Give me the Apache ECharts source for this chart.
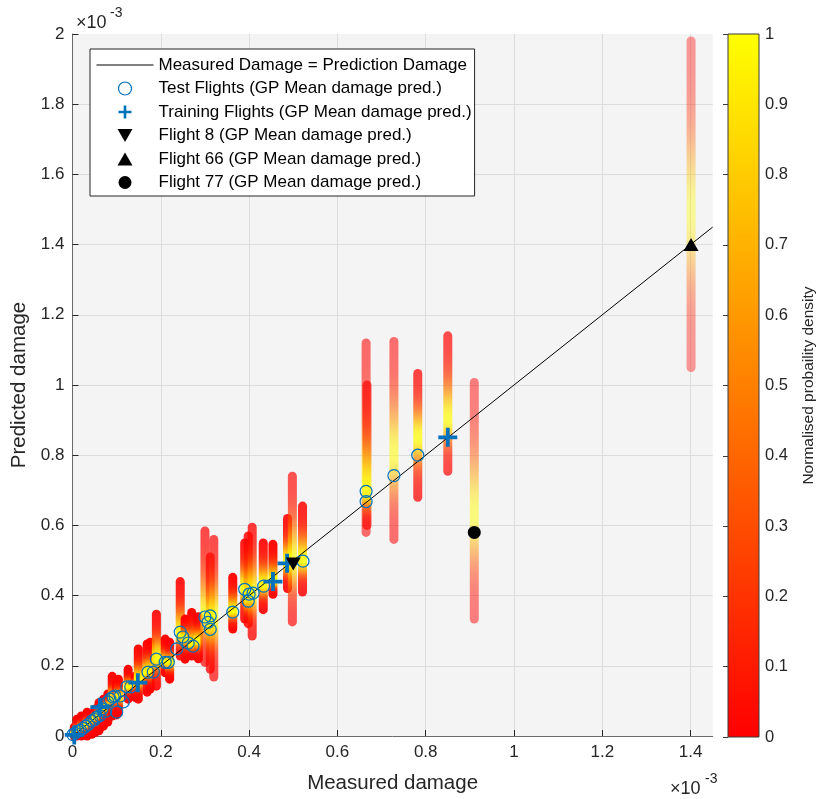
<!DOCTYPE html>
<html><head><meta charset="utf-8">
<script src="https://cdn.jsdelivr.net/npm/echarts@6/dist/echarts.min.js"></script>
<style>html,body{margin:0;padding:0;background:#fff}#c{width:818px;height:799px}</style>
</head><body><div id="c"></div>
<script>
// All damage values in units of 1e-3
// density strips: [measured, lowest predicted, highest predicted, density peak]
const strips = [
  [0.004,0.000,0.025,0.008],[0.010,0.000,0.048,0.014],[0.020,0.000,0.057,0.020],
  [0.033,0.000,0.068,0.030],[0.044,0.005,0.062,0.040],[0.051,0.010,0.077,0.050],
  [0.060,0.015,0.095,0.060],[0.070,0.028,0.105,0.078],[0.080,0.040,0.120,0.085],
  [0.090,0.057,0.170,0.105],[0.100,0.060,0.150,0.100],[0.104,0.068,0.162,0.110],
  [0.126,0.105,0.190,0.140],[0.142,0.110,0.170,0.150],[0.149,0.105,0.248,0.160],
  [0.169,0.125,0.262,0.180],[0.176,0.134,0.267,0.185],[0.190,0.142,0.347,0.220],
  [0.210,0.180,0.276,0.210],[0.220,0.162,0.267,0.210],[0.244,0.228,0.440,0.290],
  [0.255,0.219,0.333,0.280],[0.270,0.228,0.352,0.260],[0.285,0.220,0.340,0.270],
  [0.300,0.210,0.584,0.340],[0.312,0.190,0.510,0.320],[0.320,0.168,0.560,0.335],
  [0.363,0.305,0.452,0.355],[0.390,0.333,0.550,0.420],[0.398,0.320,0.570,0.390],
  [0.407,0.285,0.595,0.405],[0.432,0.360,0.550,0.430],[0.454,0.404,0.546,0.440],
  [0.487,0.420,0.620,0.495],[0.498,0.325,0.740,0.500],[0.521,0.410,0.655,0.500],
  [0.665,0.580,1.120,0.720],[0.667,0.600,1.000,0.690],[0.728,0.560,1.124,0.800],
  [0.782,0.680,1.033,0.850],[0.850,0.754,1.140,0.900],[0.910,0.333,1.007,0.630],
  [1.401,1.050,1.980,1.490]
];
const testFlights = [
  [0.001,0.004],[0.006,0.008],[0.012,0.013],[0.018,0.016],[0.024,0.022],[0.030,0.028],
  [0.036,0.033],[0.044,0.043],[0.050,0.047],[0.055,0.054],[0.062,0.058],[0.067,0.077],
  [0.075,0.070],[0.080,0.097],[0.085,0.105],[0.092,0.111],[0.096,0.114],[0.100,0.068],
  [0.108,0.114],[0.115,0.097],[0.123,0.140],[0.132,0.140],[0.171,0.182],[0.183,0.182],
  [0.190,0.219],[0.210,0.210],[0.217,0.210],[0.236,0.248],[0.244,0.296],[0.250,0.282],
  [0.262,0.265],[0.273,0.256],[0.300,0.339],[0.307,0.324],[0.312,0.342],[0.312,0.304],
  [0.363,0.353],[0.390,0.418],[0.398,0.384],[0.400,0.404],[0.409,0.407],[0.433,0.427],
  [0.522,0.498],[0.665,0.697],[0.665,0.668],[0.728,0.742],[0.782,0.800]
];
const trainingFlights = [[0.004,0.003],[0.062,0.082],[0.148,0.152],[0.454,0.440],[0.486,0.492],[0.850,0.851]];
const flight8 = [[0.500,0.490]];
const flight66 = [[1.401,1.400]];
const flight77 = [[0.910,0.580]];
const identityLine = [[0,0],[1.45,1.45]];
const colorbarRange = [[0,1]];

const FONT = '"Liberation Sans", Arial, Helvetica, sans-serif';
const TXT = '#262626';
const BLUE = '#0072BD';
const crossPath = 'path://M4,0 H6 V4 H10 V6 H6 V10 H4 V6 H0 V4 H4 Z';
const downTri = 'path://M0,0 L10,0 L5,8.7 Z';
const upTri = 'path://M5,0 L10,8.7 L0,8.7 Z';
const names = {
  line: 'Measured Damage = Prediction Damage',
  test: 'Test Flights (GP Mean damage pred.)',
  train: 'Training Flights (GP Mean damage pred.)',
  f8: 'Flight 8 (GP Mean damage pred.)',
  f66: 'Flight 66 (GP Mean damage pred.)',
  f77: 'Flight 77 (GP Mean damage pred.)'
};

function autumn(v){ return 'rgb(255,' + Math.round(255*v) + ',0)'; }

function renderStrip(params, api){
  const x = api.value(0), lo = api.value(1), hi = api.value(2), pk = api.value(3);
  const top = api.coord([x, hi]), bot = api.coord([x, lo]);
  const w = 9;
  const hpx = Math.max(bot[1] - top[1], 1);
  const total = hpx + w;
  const su = Math.max((hi - pk) / 3.2, 1e-6), sd = Math.max((pk - lo) / 3.2, 1e-6);
  const stops = [];
  const N = 30;
  for (let i = 0; i <= N; i++) {
    const t = i / N;
    const y = hi - t * (hi - lo);
    const d = y >= pk ? (y - pk) / su : (pk - y) / sd;
    const v = Math.exp(-0.5 * d * d);
    stops.push({offset: (w/2 + t*hpx) / total, color: autumn(v)});
  }
  stops.unshift({offset: 0, color: stops[0].color});
  stops.push({offset: 1, color: stops[stops.length-1].color});
  const op = Math.min(1, 1 - Math.exp(-160 / hpx));
  return {
    type: 'rect',
    shape: {x: top[0] - w/2, y: top[1] - w/2, width: w, height: total, r: w/2},
    style: {fill: new echarts.graphic.LinearGradient(0, 0, 0, 1, stops), opacity: op}
  };
}

function renderBar(params, api){
  const p0 = api.coord([0, 0]), p1 = api.coord([1, 1]);
  return {
    type: 'rect',
    shape: {x: p0[0], y: p1[1], width: p1[0] - p0[0], height: p0[1] - p1[1]},
    style: {
      fill: new echarts.graphic.LinearGradient(0, 1, 0, 0, [
        {offset: 0, color: 'rgb(255,0,0)'}, {offset: 1, color: 'rgb(255,255,0)'}]),
      stroke: '#3a3a3a', lineWidth: 1
    }
  };
}

const chart = echarts.init(document.getElementById('c'), null, {renderer: 'canvas'});
chart.setOption({
  animation: false,
  backgroundColor: '#ffffff',
  textStyle: {fontFamily: FONT},
  grid: [
    {left: 72.5, top: 34, width: 640.2, height: 703, show: true, backgroundColor: '#f4f4f4', borderWidth: 0},
    {left: 728, top: 34, width: 31, height: 703, show: false}
  ],
  xAxis: [
    {type: 'value', gridIndex: 0, min: 0, max: 1.45, interval: 0.2,
     name: 'Measured damage', nameLocation: 'middle', nameGap: 37,
     nameTextStyle: {fontSize: 20.5, color: TXT, fontFamily: FONT},
     axisLine: {show: true, lineStyle: {color: '#6a6a6a', width: 1}},
     axisTick: {show: true, inside: true, length: 6, lineStyle: {color: '#262626'}},
     axisLabel: {fontSize: 17, color: TXT, margin: 8, showMaxLabel: false, fontFamily: FONT},
     splitLine: {show: true, showMaxLine: false, lineStyle: {color: '#dcdcdc', width: 1}}},
    {type: 'value', gridIndex: 1, min: 0, max: 1, show: false}
  ],
  yAxis: [
    {type: 'value', gridIndex: 0, min: 0, max: 2, interval: 0.2,
     name: 'Predicted damage', nameLocation: 'middle', nameGap: 39, nameRotate: 90,
     nameTextStyle: {fontSize: 20.5, color: TXT, fontFamily: FONT},
     axisLine: {show: true, lineStyle: {color: '#6a6a6a', width: 1}},
     axisTick: {show: true, inside: true, length: 6, lineStyle: {color: '#262626'}},
     axisLabel: {fontSize: 17, color: TXT, margin: 8, fontFamily: FONT},
     splitLine: {show: true, showMaxLine: false, lineStyle: {color: '#dcdcdc', width: 1}}},
    {type: 'value', gridIndex: 1, position: 'right', min: 0, max: 1, interval: 0.1, z: 5,
     name: 'Normalised probaility density', nameLocation: 'middle', nameGap: 42, nameRotate: 90,
     nameTextStyle: {fontSize: 15.5, color: TXT, fontFamily: FONT},
     axisLine: {show: false},
     axisTick: {show: true, inside: true, length: 5, lineStyle: {color: '#3a3a3a'}},
     axisLabel: {fontSize: 16.5, color: TXT, margin: 6, fontFamily: FONT},
     splitLine: {show: false}}
  ],
  legend: {
    left: 90, top: 49, orient: 'vertical', selectedMode: false,
    backgroundColor: '#ffffff', borderColor: '#262626', borderWidth: 1,
    padding: [7.5, 3, 5, 6], itemWidth: 57, itemHeight: 13, itemGap: 6.5,
    textStyle: {fontSize: 17, color: '#000', fontFamily: FONT},
    data: [
      {name: names.line, itemStyle: {color: 'rgba(0,0,0,0)', borderWidth: 0, opacity: 0},
       lineStyle: {color: '#000', width: 1}},
      {name: names.test, icon: 'circle', itemStyle: {color: 'rgba(255,255,255,0)', borderColor: BLUE, borderWidth: 1.2, opacity: 1}},
      {name: names.train, icon: crossPath, itemStyle: {color: BLUE, borderWidth: 0, opacity: 1}},
      {name: names.f8, icon: downTri, itemStyle: {color: '#000', borderWidth: 0, opacity: 1}},
      {name: names.f66, icon: upTri, itemStyle: {color: '#000', borderWidth: 0, opacity: 1}},
      {name: names.f77, icon: 'circle', itemStyle: {color: '#000', borderWidth: 0, opacity: 1}}
    ]
  },
  graphic: [
    {type: 'text', left: 76, top: 14, style: {text: '×10', fontSize: 18, fill: TXT, fontFamily: FONT}},
    {type: 'text', left: 110, top: 6, style: {text: '-3', fontSize: 14, fill: TXT, fontFamily: FONT}},
    {type: 'text', left: 670, top: 780, style: {text: '×10', fontSize: 18, fill: TXT, fontFamily: FONT}},
    {type: 'text', left: 705, top: 772, style: {text: '-3', fontSize: 14, fill: TXT, fontFamily: FONT}}
  ],
  series: [
    {type: 'custom', name: 'density', xAxisIndex: 0, yAxisIndex: 0, z: 1, clip: false,
     renderItem: renderStrip, data: strips, encode: {x: 0, y: [1, 2]}, silent: true},
    {type: 'line', name: names.line, data: identityLine, z: 3, symbol: 'none',
     lineStyle: {color: '#000', width: 1}, itemStyle: {color: '#000'}, silent: true},
    {type: 'scatter', name: names.test, data: testFlights, z: 4, symbol: 'circle', symbolSize: 12,
     itemStyle: {color: 'rgba(255,255,255,0)', borderColor: BLUE, borderWidth: 1.2, opacity: 1}, silent: true},
    {type: 'scatter', name: names.train, data: trainingFlights, z: 5, symbol: crossPath, symbolSize: 19,
     itemStyle: {color: BLUE, opacity: 1}, silent: true},
    {type: 'scatter', name: names.f8, data: flight8, z: 6, symbol: downTri, symbolSize: [15, 13],
     itemStyle: {color: '#000', opacity: 1}, silent: true},
    {type: 'scatter', name: names.f66, data: flight66, z: 6, symbol: upTri, symbolSize: [15, 13],
     itemStyle: {color: '#000', opacity: 1}, silent: true},
    {type: 'scatter', name: names.f77, data: flight77, z: 6, symbol: 'circle', symbolSize: 13,
     itemStyle: {color: '#000', opacity: 1}, silent: true},
    {type: 'custom', name: 'colorbar', xAxisIndex: 1, yAxisIndex: 1, z: 1,
     renderItem: renderBar, data: colorbarRange, encode: {x: 0, y: 1}, silent: true}
  ]
});
</script></body></html>
